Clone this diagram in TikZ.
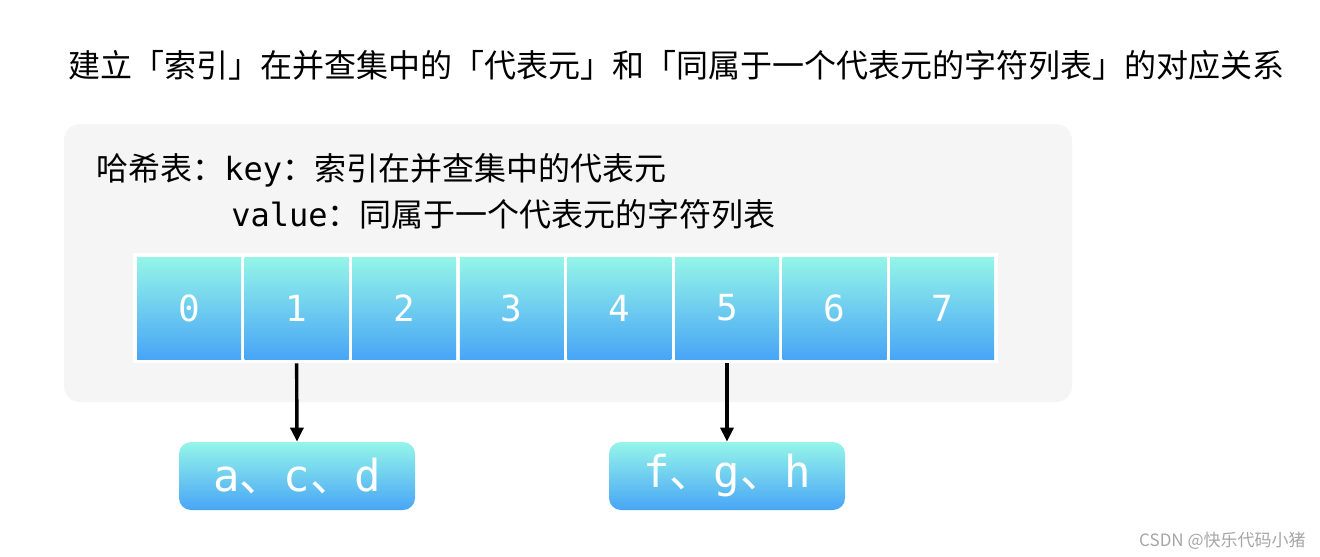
\documentclass[tikz,border=0pt]{standalone}
\usepackage{fontspec}
\setmainfont{Noto Sans CJK SC}
\setmonofont{DejaVu Sans Mono}
\usetikzlibrary{arrows.meta}

\definecolor{panelgray}{HTML}{F5F5F5}
\definecolor{celltop}{HTML}{95F5E8}
\definecolor{cellbot}{HTML}{48A5F6}

\tikzset{
	cell/.style={minimum width=52pt, minimum height=51pt, inner sep=0pt,
		top color=celltop, bottom color=cellbot, text=white,
		font=\ttfamily\fontsize{18}{18}\selectfont},
	listbox/.style={rounded corners=6pt, minimum width=118pt, minimum height=34pt,
		inner sep=0pt, top color=celltop, bottom color=cellbot, text=white,
		font=\ttfamily\fontsize{22}{22}\selectfont},
	caption/.style={anchor=base west, inner sep=0pt, font=\fontsize{16}{16}\selectfont},
	link/.style={-{Triangle[width=6.5pt,length=7pt]}, line width=1.7pt, shorten <=2pt}
}

\begin{document}
\begin{tikzpicture}[x=0.5pt, y=-0.5pt]
	\useasboundingbox (0,0) rectangle (1320,556);
	\fill[white] (0,0) rectangle (1320,556);

	\node[caption] (title) at (68,78) {建立「索引」在并查集中的「代表元」和「同属于一个代表元的字符列表」的对应关系};

	\fill[panelgray, rounded corners=8pt] (64,124) rectangle (1072,402);
	\node[caption] (keyline) at (96,180) {哈希表：{\ttfamily key}：索引在并查集中的代表元};
	\node[caption] (valueline) at (231,226) {{\ttfamily value}：同属于一个代表元的字符列表};

	\fill[white] (133,253) rectangle (998,363);
	\foreach \i in {0,...,7}
		\node[cell] (c\i) at ({189+107.6*\i},308) {\i};

	\node[listbox] (l1) at (297,476) {a{\rmfamily 、}c{\rmfamily 、}d};
	\node[listbox] (l2) at (727,476) {f{\rmfamily 、}g{\rmfamily 、}h};

	\draw[link] (c1.south) -- (l1.north);
	\draw[link] (c5.south) -- (l2.north);

	\node[anchor=base east, inner sep=0pt, text=gray!70, font=\fontsize{8.5}{8.5}\selectfont] (mark) at (1306,546) {CSDN @快乐代码小猪};
\end{tikzpicture}
\end{document}
